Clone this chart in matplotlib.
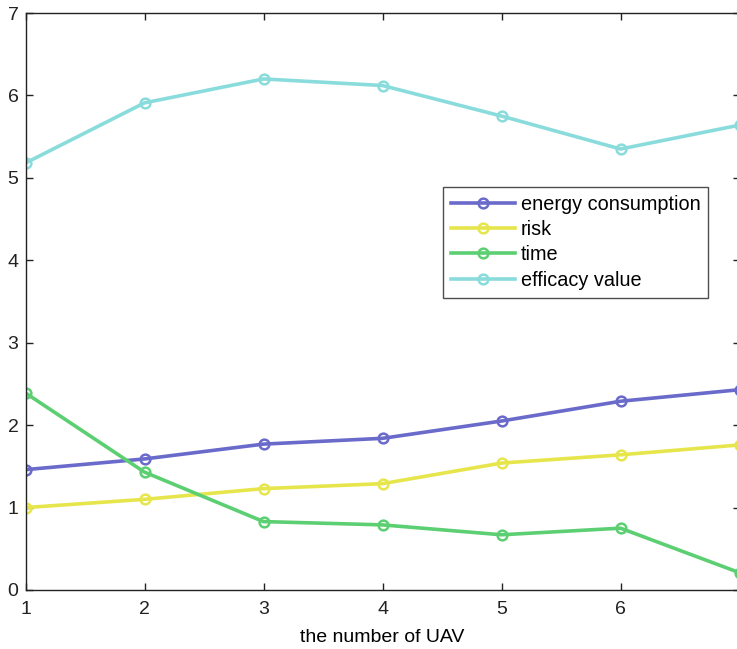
import matplotlib
matplotlib.use("Agg")
import matplotlib.pyplot as plt

plt.rcParams['font.family'] = ['Liberation Sans', 'DejaVu Sans']

# data
uav_count = [1, 2, 3, 4, 5, 6, 7]
energy = [1.46, 1.59, 1.77, 1.84, 2.05, 2.29, 2.43]
risk = [1.00, 1.10, 1.23, 1.29, 1.54, 1.64, 1.76]
time_cost = [2.39, 1.43, 0.83, 0.79, 0.67, 0.75, 0.21]
efficacy = [5.18, 5.91, 6.20, 6.12, 5.75, 5.35, 5.64]

series_names = ['energy consumption', 'risk', 'time', 'efficacy value']
series_colors = ['#6a6acb', '#e6e64c', '#5ccf72', '#8adcdc']

fig = plt.figure(figsize=(7.37, 6.49), dpi=100)
ax = fig.add_axes([25.5 / 737, 59 / 649, (739.5 - 25.5) / 737, 577 / 649])

for vals, name, col in zip([energy, risk, time_cost, efficacy], series_names, series_colors):
    ax.plot(uav_count, vals, color=col, lw=2.6, marker='o', ms=7,
            mfc='none', mec=col, mew=1.8, label=name)

ax.set_xlim(1, 7)
ax.set_ylim(0, 7)
ax.set_xticks(range(1, 7))
ax.set_yticks(range(0, 8))
ax.tick_params(direction='in', length=5, width=1, top=True, right=True,
               labelsize=14, colors='#222222')
ax.tick_params(axis='x', pad=8)
ax.tick_params(axis='y', pad=5)
for s in ax.spines.values():
    s.set_linewidth(1.0)
    s.set_color('#222222')

ax.set_xlabel('the number of UAV', fontsize=14, labelpad=8)

leg = ax.legend(loc='upper left', bbox_to_anchor=(0.585, 0.699), fontsize=14.3,
                frameon=True, fancybox=False, edgecolor='#222222',
                handlelength=3.2, handletextpad=0.3, labelspacing=0.32,
                borderpad=0.4, borderaxespad=0)
leg.get_frame().set_linewidth(1.0)

fig.savefig('out.png', dpi=100)
